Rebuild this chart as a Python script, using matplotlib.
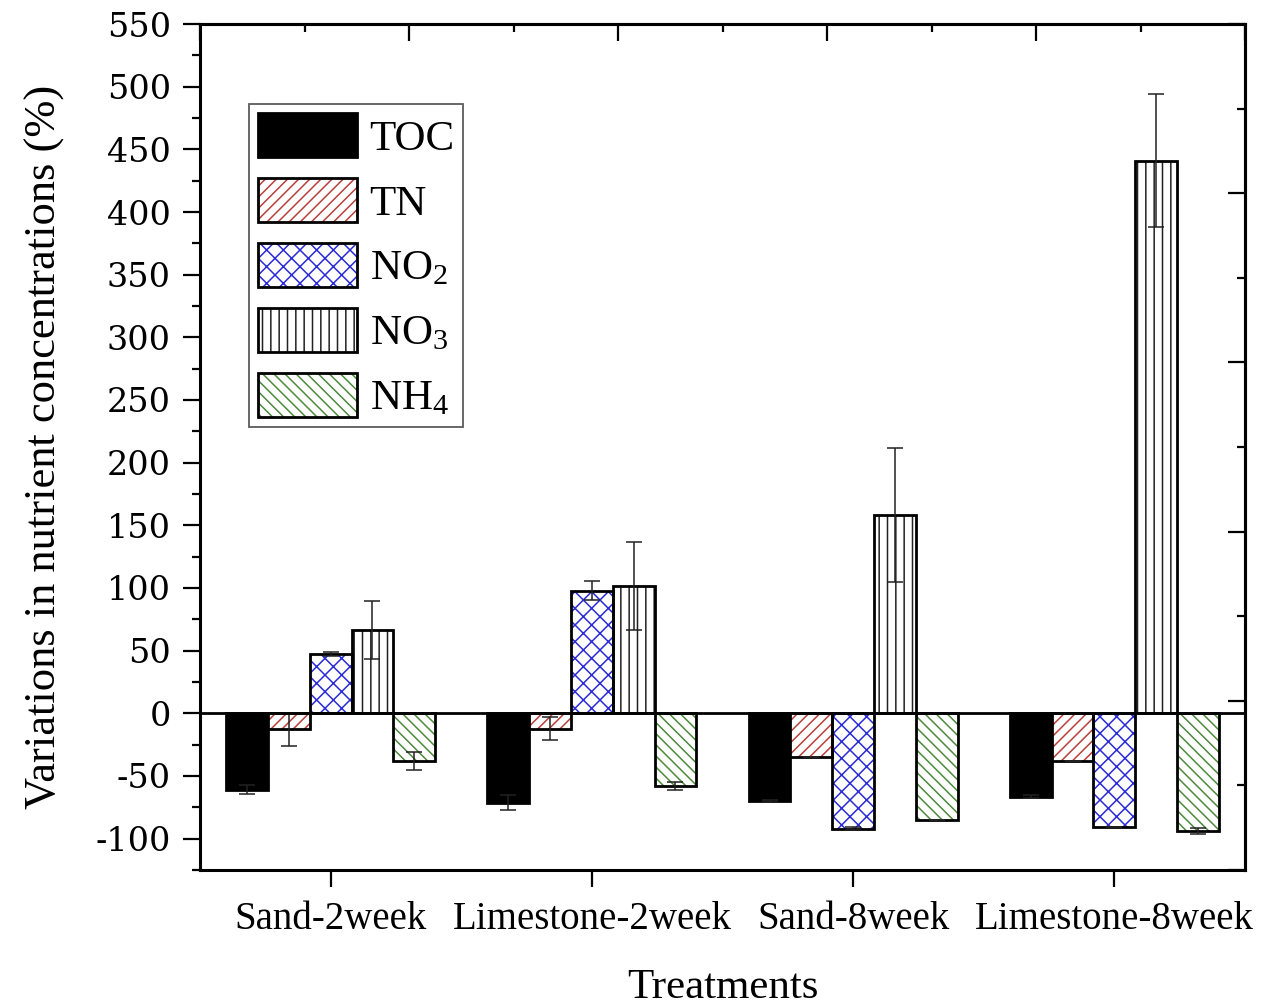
import numpy as np
import matplotlib
matplotlib.use("Agg")
import matplotlib.pyplot as plt
from matplotlib.patches import Patch
from matplotlib.legend_handler import HandlerTuple
from matplotlib.ticker import MultipleLocator, NullFormatter

plt.rcParams['font.family'] = ['Liberation Serif', 'DejaVu Serif']
plt.rcParams['mathtext.fontset'] = 'custom'
plt.rcParams['mathtext.rm'] = 'Liberation Serif'
plt.rcParams['mathtext.it'] = 'Liberation Serif:italic'
plt.rcParams['hatch.linewidth'] = 1.1
plt.rcParams['axes.unicode_minus'] = False

# ---- data ----
treatments = ["Sand-2week", "Limestone-2week", "Sand-8week", "Limestone-8week"]
series = ["TOC", "TN", "NO$_2$", "NO$_3$", "NH$_4$"]
toc = [-61, -71.5, -70, -66.5]
tn = [-12.8, -12.3, -34.7, -37.9]
no2 = [47.2, 98, -92, -90.7]
no3 = [66.7, 101.5, 158, 441]
nh4 = [-38, -58, -85.4, -94]
toc_err = [3.5, 6, 0.5, 1]
tn_err = [13, 9, 0, 0]
no2_err = [1.5, 7.5, 1, 0]
no3_err = [23, 35, 53.5, 53]
nh4_err = [7, 3.5, 0, 2.5]

values = [toc, tn, no2, no3, nh4]
errors = [toc_err, tn_err, no2_err, no3_err, nh4_err]
hatch_colors = ["black", "#b9403c", "#2b2bd6", "#222222", "#4d8a3c"]
hatches = [None, "///", "xx", "||", "\\\\\\"]
fills = ["black", "white", "white", "white", "white"]

fig = plt.figure(figsize=(12.76, 10.08), dpi=100)
ax = fig.add_axes([200/1276, 1-870/1008, 1045/1276, 846/1008])

x = np.arange(1, len(treatments)+1)
w = 0.16
handles = []
for i, (vals, errs) in enumerate(zip(values, errors)):
    pos = x + (i-2)*w
    if hatches[i] is None:
        ax.bar(pos, vals, w, color=fills[i], edgecolor='black', linewidth=2.0, zorder=2)
        handles.append(Patch(facecolor='black', edgecolor='black', linewidth=2.0))
    else:
        ax.bar(pos, vals, w, color=fills[i], edgecolor=hatch_colors[i], hatch=hatches[i],
               linewidth=0, zorder=2)
        ax.bar(pos, vals, w, fill=False, edgecolor='black', linewidth=2.0, zorder=3)
        hp = Patch(facecolor='white', edgecolor=hatch_colors[i], hatch=hatches[i], linewidth=0)
        op = Patch(fill=False, edgecolor='black', linewidth=2.0)
        handles.append((hp, op))
    ax.errorbar(pos, vals, yerr=errs, fmt='none', ecolor='#222222', elinewidth=1.1,
                capsize=6, capthick=1.1, zorder=4)

ax.axhline(0, color='black', linewidth=2, zorder=5)

ylo, yhi = -125, 550
ax.set_ylim(ylo, yhi)
ax.set_xlim(0.5, 4.5)
ax.set_xticks(x)
ax.set_xticklabels(treatments, fontsize=28)
ax.yaxis.set_major_locator(MultipleLocator(50))
ax.yaxis.set_minor_locator(MultipleLocator(25))
for lab in ax.get_yticklabels():
    lab.set_fontfamily('DejaVu Serif')
    lab.set_fontsize(24)
ax.tick_params(axis='both', which='major', direction='out', length=12, width=1.6)
ax.tick_params(axis='y', which='major', pad=9)
ax.tick_params(axis='y', which='minor', direction='out', length=6, width=1.6)
ax.tick_params(axis='x', which='major', pad=10)
for s in ax.spines.values():
    s.set_linewidth(2.2)

ax.set_ylabel("Variations in nutrient concentrations (%)", fontsize=32, labelpad=22)
ax.set_xlabel("Treatments", fontsize=31, labelpad=22)

# opposite axes ticks (Origin style, inward, no labels)
secy = ax.secondary_yaxis('right', functions=(lambda y: (y-ylo)/(yhi-ylo)*5,
                                              lambda v: v/5*(yhi-ylo)+ylo))
secy.set_yticks(np.arange(0, 6))
secy.yaxis.set_minor_locator(MultipleLocator(0.5))
secy.tick_params(which='major', direction='in', length=12, width=1.6, labelright=False)
secy.tick_params(which='minor', direction='in', length=6, width=1.6)
secy.yaxis.set_major_formatter(NullFormatter())
secy.spines['right'].set_linewidth(2.2)

secx = ax.secondary_xaxis('top', functions=(lambda t: (t-0.5)/4*5, lambda v: v/5*4+0.5))
secx.set_xticks(np.arange(0, 6))
secx.xaxis.set_minor_locator(MultipleLocator(0.5))
secx.tick_params(which='major', direction='in', length=12, width=1.6, labeltop=False)
secx.tick_params(which='minor', direction='in', length=6, width=1.6)
secx.xaxis.set_major_formatter(NullFormatter())
secx.spines['top'].set_linewidth(2.2)

leg = ax.legend(handles, series, loc='upper left', bbox_to_anchor=(0.047, 0.905),
                borderaxespad=0, fontsize=31, handlelength=2.3, handleheight=1.2,
                handletextpad=0.3, labelspacing=0.45, borderpad=0.2, fancybox=False,
                frameon=True, handler_map={tuple: HandlerTuple(ndivide=1)})
leg.get_frame().set_edgecolor('#333333')
leg.get_frame().set_linewidth(1.3)
leg.set_zorder(10)

fig.savefig("out.png", dpi=100)
